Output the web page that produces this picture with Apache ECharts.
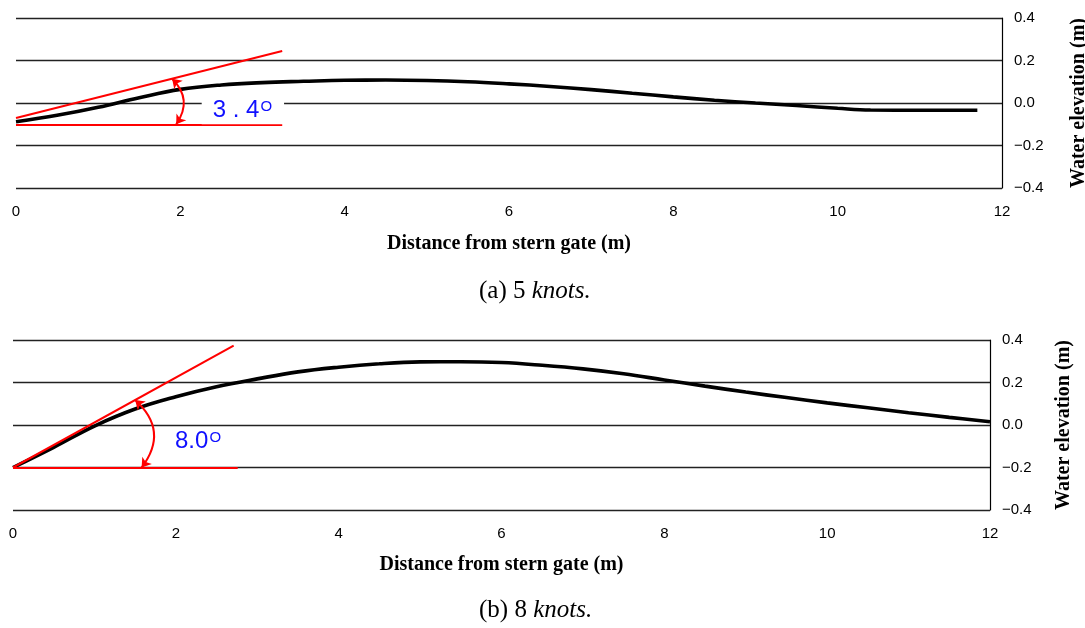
<!DOCTYPE html>
<html>
<head>
<meta charset="utf-8">
<script src="https://cdn.jsdelivr.net/npm/echarts@6/dist/echarts.min.js"></script>
<style>
html,body{margin:0;padding:0;background:#fff;}
#chart{width:1085px;height:628px;}
</style>
</head>
<body>
<div id="chart"></div>
<script>
// ---- data ----
const xTicks = [0, 2, 4, 6, 8, 10, 12];
const yTicks = [-0.4, -0.2, 0.0, 0.2, 0.4];

// (a) 5 knots
const distA = [0, 0.5, 1, 1.5, 2, 2.5, 3, 3.5, 4, 4.5, 5, 5.5, 6, 6.5, 7, 7.5, 8, 8.5, 9, 9.5, 10, 10.4, 11, 11.7];
const elevA = [-0.088, -0.058, -0.02, 0.025, 0.064, 0.085, 0.096, 0.102, 0.107, 0.108, 0.106, 0.1, 0.09, 0.078, 0.063, 0.046, 0.029, 0.013, 0.0, -0.012, -0.025, -0.033, -0.034, -0.034];
const tangentA = [[0, -0.071], [3.24, 0.245]];
const baseA = [[0, -0.1], [3.24, -0.1]];
const arcA = [[1.9, 0.114], [1.95, -0.1]];
const angleLabelPosA = [2.26, -0.034];
const angleA = '3 . 4';

// (b) 8 knots
const distB = [0, 0.5, 1, 1.5, 2, 2.5, 3, 3.5, 4, 4.5, 5, 5.5, 6, 6.5, 7, 7.5, 8, 8.5, 9, 9.5, 10, 10.5, 11, 11.5, 12];
const elevB = [-0.2, -0.105, -0.005, 0.075, 0.133, 0.18, 0.217, 0.25, 0.272, 0.288, 0.297, 0.298, 0.294, 0.281, 0.264, 0.241, 0.212, 0.183, 0.155, 0.129, 0.104, 0.081, 0.058, 0.036, 0.015];
const tangentB = [[0, -0.2], [2.71, 0.373]];
const baseB = [[0, -0.2], [2.76, -0.2]];
const arcB = [[1.5, 0.118], [1.58, -0.2]];
const angleLabelPosB = [1.99, -0.075];
const angleB = '8.0';

const xName = 'Distance from stern gate (m)';
const yName = 'Water elevation (m)';
const captionA = ['(a) 5 ', 'knots.'];
const captionB = ['(b) 8 ', 'knots.'];

// ---- helpers ----
const zip = (a, b) => a.map((v, i) => [v, b[i]]);
const fmtY = v => (v < 0 ? '\u2212' : '') + Math.abs(v).toFixed(1);
const RED = '#ff0000';
const BLUE = '#1010ff';

function xAxisCfg(idx, gap) {
  return {
    type: 'value', gridIndex: idx, min: xTicks[0], max: xTicks[xTicks.length - 1], interval: 2,
    axisLine: { show: false }, axisTick: { show: false }, splitLine: { show: false },
    axisLabel: { margin: 16, fontFamily: 'Liberation Sans', fontSize: 15, color: '#000', showMinLabel: true, showMaxLabel: true },
    name: xName, nameLocation: 'middle', nameGap: gap,
    nameTextStyle: { fontFamily: 'Liberation Serif', fontWeight: 'bold', fontSize: 20, color: '#000' }
  };
}
function yAxisCfg(idx, gap) {
  return {
    type: 'value', gridIndex: idx, position: 'right', min: yTicks[0], max: yTicks[yTicks.length - 1], interval: 0.2,
    axisLine: { show: true, onZero: false, lineStyle: { color: '#000', width: 1.2 } },
    axisTick: { show: false },
    splitLine: { show: true, lineStyle: { color: '#222', width: 1.4 } },
    axisLabel: { margin: 12, fontFamily: 'Liberation Sans', fontSize: 15, color: '#000', formatter: fmtY },
    name: yName, nameLocation: 'middle', nameRotate: 90, nameGap: gap,
    nameTextStyle: { fontFamily: 'Liberation Serif', fontWeight: 'bold', fontSize: 20, color: '#000' }
  };
}
function seriesFor(idx, dist, elev, tangent, base, arc, curv, lblPos, lblText, boxed) {
  const richN = { fontFamily: 'Liberation Sans', fontSize: 24, color: BLUE, lineHeight: 22 };
  const richS = { fontFamily: 'Liberation Sans', fontSize: 15, color: BLUE, verticalAlign: 'top', lineHeight: 6, padding: [0, 0, 0, 1] };
  return [
    {
      type: 'line', xAxisIndex: idx, yAxisIndex: idx, data: zip(dist, elev),
      smooth: 0.4, showSymbol: false, silent: true, z: 3,
      lineStyle: { color: '#000', width: 3.6 }
    },
    {
      type: 'lines', coordinateSystem: 'cartesian2d', xAxisIndex: idx, yAxisIndex: idx, silent: true, z: 4,
      symbol: 'none', lineStyle: { color: RED, width: 2, curveness: 0, opacity: 1 },
      data: [{ coords: tangent }, { coords: base }]
    },
    {
      type: 'lines', coordinateSystem: 'cartesian2d', xAxisIndex: idx, yAxisIndex: idx, silent: true, z: 4,
      symbol: ['arrow', 'arrow'], symbolSize: 9,
      lineStyle: { color: RED, width: 2, curveness: curv, opacity: 1 },
      data: [{ coords: arc }]
    },
    {
      type: 'scatter', xAxisIndex: idx, yAxisIndex: idx, silent: true, z: 5,
      symbolSize: 0, data: [lblPos], itemStyle: { opacity: 1 },
      label: {
        show: true, position: 'right', distance: 0, opacity: 1,
        formatter: '{n|' + lblText + '}{s|O}',
        backgroundColor: boxed ? '#fff' : 'transparent',
        padding: boxed ? [3, 12, 3, 11] : 0,
        rich: { n: richN, s: richS }
      }
    }
  ];
}

const chart = echarts.init(document.getElementById('chart'), null, { renderer: 'canvas' });
chart.setOption({
  animation: false,
  backgroundColor: '#fff',
  grid: [
    { left: 16, right: 83, top: 18, height: 170, containLabel: false, outerBoundsMode: 'none' },
    { left: 13, right: 95, top: 340, height: 170, containLabel: false, outerBoundsMode: 'none' }
  ],
  xAxis: [xAxisCfg(0, 46), xAxisCfg(1, 45)],
  yAxis: [yAxisCfg(0, 67), yAxisCfg(1, 64)],
  graphic: [
    {
      type: 'text', left: 479, top: 279,
      style: {
        text: '{r|' + captionA[0] + '}{i|' + captionA[1] + '}',
        rich: {
          r: { fontFamily: 'Liberation Serif', fontSize: 25, fill: '#000' },
          i: { fontFamily: 'Liberation Serif', fontSize: 25, fontStyle: 'italic', fill: '#000' }
        }
      }
    },
    {
      type: 'text', left: 479, top: 598,
      style: {
        text: '{r|' + captionB[0] + '}{i|' + captionB[1] + '}',
        rich: {
          r: { fontFamily: 'Liberation Serif', fontSize: 25, fill: '#000' },
          i: { fontFamily: 'Liberation Serif', fontSize: 25, fontStyle: 'italic', fill: '#000' }
        }
      }
    }
  ],
  series: [
    ...seriesFor(0, distA, elevA, tangentA, baseA, arcA, 0.42, angleLabelPosA, angleA, true),
    ...seriesFor(1, distB, elevB, tangentB, baseB, arcB, 0.46, angleLabelPosB, angleB, false)
  ]
});
</script>
</body>
</html>
